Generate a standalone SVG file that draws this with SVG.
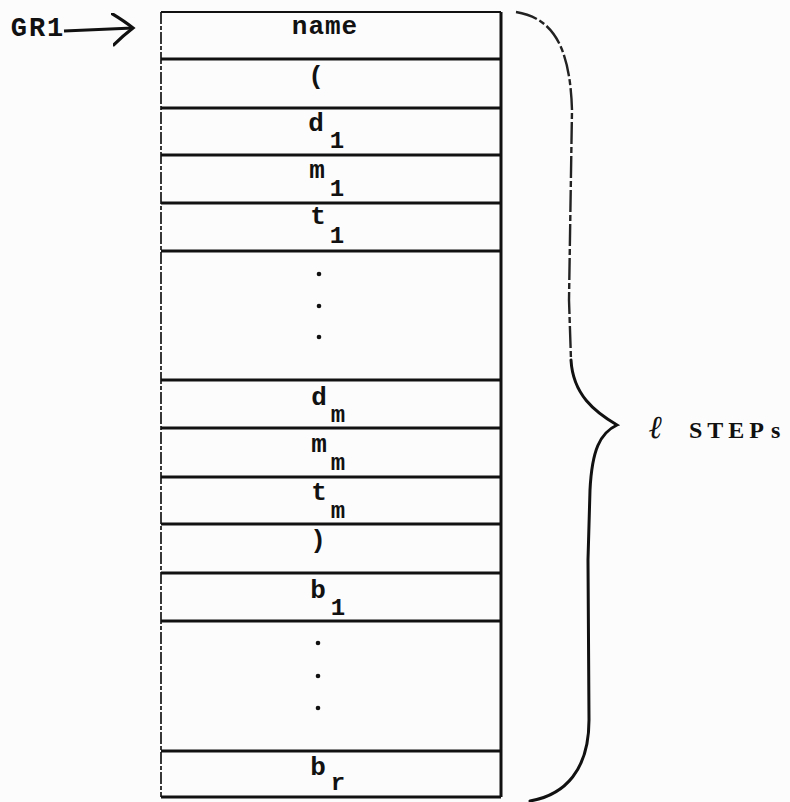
<svg xmlns="http://www.w3.org/2000/svg" width="790" height="802" viewBox="0 0 790 802">
<defs>
<style>
.bg{fill:#fcfcfc}
.t{font-family:"Liberation Mono","DejaVu Sans Mono",monospace;font-weight:bold;font-size:26px;fill:#111;text-anchor:middle}
.s{font-family:"Liberation Mono","DejaVu Sans Mono",monospace;font-weight:bold;font-size:24px;fill:#111;text-anchor:middle}
.hl{stroke:#111;stroke-width:3;fill:none}
.lft{stroke:#222;stroke-width:1.8;stroke-dasharray:12 2 4 2;fill:none}
.rgt{stroke:#111;stroke-width:3;fill:none}
.dot{fill:#111}
.br{stroke:#111;stroke-width:3;fill:none;stroke-linecap:round}
.brd{stroke:#222;stroke-width:2.4;fill:none;stroke-dasharray:22 3 6 3}
.lbl{font-family:"Liberation Serif","DejaVu Serif",serif;font-weight:bold;font-size:24px;fill:#111}
.arr{stroke:#111;stroke-width:3;fill:none}
</style>
<marker id="ah" markerWidth="24" markerHeight="34" refX="21" refY="16" orient="auto" markerUnits="userSpaceOnUse">
<path d="M1,1 Q13,9 21,16 Q11,23 1,32" fill="none" stroke="#111" stroke-width="3.2" stroke-linecap="round"/>
</marker>
</defs>
<rect class="bg" x="0" y="0" width="790" height="802"/>

<g id="frame">
<line class="lft" x1="161" y1="12" x2="161" y2="797"/>
<line class="rgt" x1="501" y1="12" x2="501" y2="797"/>
<line class="hl" x1="161" y1="797" x2="501" y2="797"/>
</g>

<g id="row-name"><line class="hl" x1="161" y1="12" x2="501" y2="12" style="stroke-width:2.2"/><text class="t" x="325" y="34" letter-spacing="1">name</text></g>
<g id="row-lparen"><line class="hl" x1="161" y1="59" x2="501" y2="59"/><text class="t" x="316" y="84">(</text></g>
<g id="row-d1"><line class="hl" x1="161" y1="108" x2="501" y2="108"/><text class="t" x="316" y="131">d</text><text class="s" x="337" y="148">1</text></g>
<g id="row-m1"><line class="hl" x1="161" y1="155" x2="501" y2="155"/><text class="t" x="317" y="178">m</text><text class="s" x="337" y="196">1</text></g>
<g id="row-t1"><line class="hl" x1="161" y1="203" x2="501" y2="203"/><text class="t" x="318" y="224">t</text><text class="s" x="337" y="243">1</text></g>
<g id="row-dots1"><line class="hl" x1="161" y1="251" x2="501" y2="251"/><circle class="dot" cx="319" cy="274" r="2.3"/><circle class="dot" cx="319" cy="306" r="2.3"/><circle class="dot" cx="319" cy="337" r="2.3"/></g>
<g id="row-dm"><line class="hl" x1="161" y1="380" x2="501" y2="380"/><text class="t" x="319" y="405">d</text><text class="s" x="338" y="422">m</text></g>
<g id="row-mm"><line class="hl" x1="161" y1="428" x2="501" y2="428"/><text class="t" x="319" y="452">m</text><text class="s" x="338" y="470">m</text></g>
<g id="row-tm"><line class="hl" x1="161" y1="477" x2="501" y2="477"/><text class="t" x="319" y="500">t</text><text class="s" x="338" y="518">m</text></g>
<g id="row-rparen"><line class="hl" x1="161" y1="524" x2="501" y2="524"/><text class="t" x="318" y="548">)</text></g>
<g id="row-b1"><line class="hl" x1="161" y1="573" x2="501" y2="573"/><text class="t" x="318" y="598">b</text><text class="s" x="338" y="615">1</text></g>
<g id="row-dots2"><line class="hl" x1="161" y1="621" x2="501" y2="621"/><circle class="dot" cx="318" cy="643" r="2.3"/><circle class="dot" cx="318" cy="676" r="2.3"/><circle class="dot" cx="318" cy="708" r="2.3"/></g>
<g id="row-br"><line class="hl" x1="161" y1="751" x2="501" y2="751"/><text class="t" x="318" y="775">b</text><text class="s" x="338" y="790">r</text></g>

<g id="gr1"><text class="t" x="38" y="36" letter-spacing="2" style="font-size:27px">GR1</text></g>

<g id="connectors">
<path class="arr" d="M64,31 L133,28" marker-end="url(#ah)"/>
</g>

<g id="brace">
<path class="brd" d="M516,12 C552,18 570,45 572,110 L569,300 L571,360"/>
<path class="br" d="M571,360 C573,395 595,412 617,425 C600,433 592,450 590,490 L588,560 L589,720 C589,770 565,795 530,801"/>
</g>

<g id="label"><text class="lbl" y="438"><tspan x="649" style="font-style:italic;font-weight:bold;font-size:32px;font-family:'DejaVu Serif',serif">ℓ</tspan><tspan x="689" letter-spacing="5">STEP</tspan><tspan x="771">s</tspan></text></g>
</svg>
